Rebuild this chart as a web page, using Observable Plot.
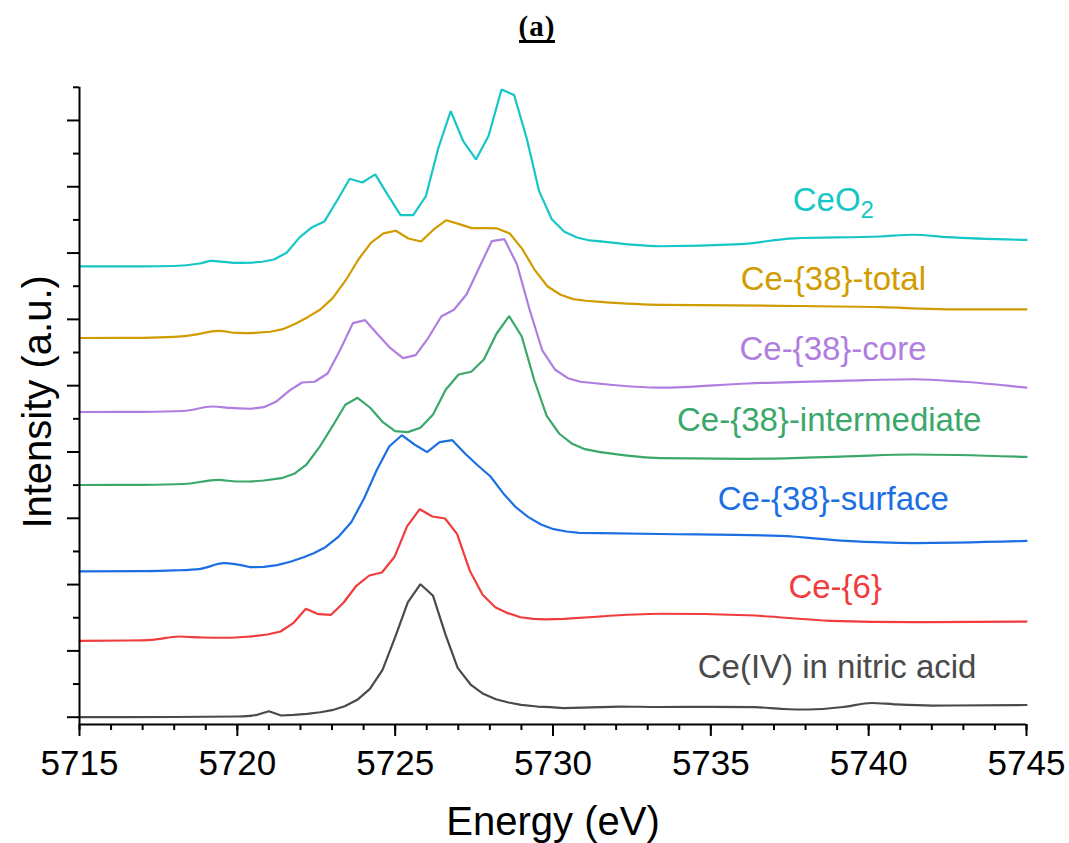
<!DOCTYPE html>
<html><head><meta charset="utf-8">
<script src="https://cdn.jsdelivr.net/npm/d3@7"></script>
<script src="https://cdn.jsdelivr.net/npm/@observablehq/plot@0.6"></script>
<style>
body{margin:0;background:#fff;}
#title{height:50px;width:1069px;text-align:center;font-family:"Liberation Serif","DejaVu Serif",serif;font-weight:bold;font-size:29px;color:#000;}
#title span{display:inline-block;margin-top:13px;margin-left:5px;line-height:27px;border-bottom:3px solid #000;letter-spacing:1px;}
</style></head><body>
<div id="title"><span>(a)</span></div>
<div id="chart"></div>
<script>
// ---- data (Energy in eV, intensity in stacked arbitrary units) ----
const seriesNames = ["CeO₂","Ce-{38}-total","Ce-{38}-core","Ce-{38}-intermediate","Ce-{38}-surface","Ce-{6}","Ce(IV) in nitric acid"];
const seriesColors = ["#17c6c6","#d09c00","#b07de0","#3aa86a","#1c6fe3","#f03c3c","#4a4a4a"];

const ceo2E = [5715,5716,5717,5718,5718.8,5719.2,5719.6,5720.0,5720.42,5720.79,5721.16,5721.56,5721.98,5722.37,5722.76,5723.16,5723.56,5723.96,5724.37,5724.77,5725.17,5725.57,5725.97,5726.37,5726.76,5727.16,5727.56,5727.96,5728.37,5728.77,5729.17,5729.56,5729.96,5730.36,5730.76,5731.16,5731.5,5733.4,5735.94,5737.62,5740.37,5741.42,5742.49,5745];
const ceo2I = [6.798,6.798,6.798,6.805,6.843,6.881,6.866,6.851,6.854,6.869,6.903,7.005,7.240,7.391,7.477,7.793,8.121,8.065,8.186,7.873,7.572,7.572,7.854,8.588,9.140,8.683,8.412,8.769,9.468,9.382,8.724,7.934,7.511,7.321,7.235,7.190,7.175,7.103,7.134,7.223,7.250,7.276,7.240,7.198];

const totalE = [5715,5717,5718,5718.6,5719.4,5720.0,5720.42,5721.05,5721.44,5721.84,5722.23,5722.63,5723.02,5723.43,5723.83,5724.23,5724.63,5725.02,5725.42,5725.82,5726.22,5726.62,5727.03,5727.43,5727.83,5728.23,5728.63,5729.03,5729.43,5729.83,5730.24,5730.64,5731.04,5731.5,5733.4,5737.2,5740.37,5742.49,5745];
const totalI = [5.719,5.722,5.735,5.765,5.825,5.795,5.792,5.813,5.852,5.934,6.033,6.149,6.320,6.587,6.899,7.155,7.296,7.336,7.220,7.175,7.356,7.496,7.436,7.376,7.376,7.371,7.296,7.059,6.738,6.496,6.371,6.305,6.281,6.265,6.220,6.205,6.184,6.152,6.152];

const coreE = [5715,5717,5718.3,5719.2,5719.8,5720.42,5720.84,5721.24,5721.66,5722.05,5722.45,5722.86,5723.26,5723.66,5724.05,5724.45,5724.85,5725.25,5725.65,5726.05,5726.46,5726.86,5727.26,5727.66,5728.06,5728.46,5728.86,5729.26,5729.66,5730.07,5730.47,5730.87,5731.5,5733.4,5736.15,5739.3,5741.42,5743.0,5745];
const coreI = [4.603,4.606,4.618,4.686,4.664,4.652,4.676,4.762,4.928,5.048,5.059,5.184,5.541,5.943,5.988,5.772,5.566,5.415,5.460,5.722,6.044,6.145,6.376,6.778,7.179,7.210,6.828,6.145,5.531,5.240,5.113,5.059,5.029,4.970,5.033,5.075,5.097,5.059,4.970];

const interE = [5715,5717,5718.3,5719.4,5720.0,5720.42,5720.84,5721.40,5721.80,5722.19,5722.60,5723.01,5723.42,5723.81,5724.21,5724.61,5725.00,5725.40,5725.80,5726.20,5726.60,5727.01,5727.41,5727.81,5728.21,5728.61,5729.01,5729.41,5729.80,5730.20,5730.61,5731.01,5731.5,5733.4,5736.15,5739.3,5741.42,5745];
const interI = [3.502,3.505,3.517,3.578,3.555,3.555,3.570,3.605,3.671,3.811,4.072,4.385,4.712,4.817,4.667,4.449,4.314,4.299,4.365,4.566,4.938,5.169,5.210,5.395,5.783,6.048,5.742,5.078,4.546,4.275,4.124,4.042,3.997,3.908,3.897,3.935,3.962,3.925];

const surfE = [5715,5717,5718,5718.83,5719.57,5720.42,5720.84,5721.26,5721.68,5722.10,5722.42,5722.79,5723.19,5723.61,5724.01,5724.41,5724.81,5725.21,5725.61,5726.01,5726.41,5726.81,5727.22,5727.62,5728.02,5728.42,5728.82,5729.22,5729.62,5730.02,5730.43,5730.83,5731.5,5733.4,5737.2,5739.3,5741.42,5745];
const surfI = [2.198,2.202,2.213,2.238,2.323,2.262,2.268,2.293,2.344,2.413,2.474,2.564,2.715,2.941,3.294,3.721,4.083,4.253,4.113,3.997,4.148,4.178,3.973,3.796,3.630,3.379,3.167,3.017,2.906,2.836,2.801,2.781,2.775,2.763,2.736,2.658,2.626,2.658];

const ce6E = [5715,5716.5,5717.3,5718.15,5718.9,5719.6,5720.42,5720.95,5721.37,5721.77,5722.17,5722.57,5722.97,5723.37,5723.77,5724.18,5724.58,5724.98,5725.38,5725.78,5726.18,5726.58,5726.96,5727.36,5727.77,5728.17,5728.57,5728.97,5729.37,5729.77,5730.34,5731.5,5733.4,5736.15,5738.8,5741.42,5745];
const ce6I = [1.152,1.157,1.167,1.217,1.202,1.198,1.217,1.247,1.293,1.418,1.635,1.554,1.544,1.730,1.982,2.137,2.183,2.419,2.881,3.137,3.027,2.997,2.766,2.213,1.846,1.659,1.569,1.508,1.484,1.474,1.484,1.519,1.560,1.538,1.454,1.433,1.443];

const nitricE = [5715,5718,5720.0,5720.42,5720.63,5721.00,5721.39,5721.79,5722.21,5722.63,5723.00,5723.40,5723.80,5724.20,5724.60,5725.00,5725.40,5725.80,5726.20,5726.60,5726.98,5727.39,5727.79,5728.19,5728.59,5728.99,5729.50,5729.92,5730.34,5731.5,5732.1,5733.4,5735,5736.4,5737.3,5738.1,5739.2,5740.1,5740.8,5742,5745];
const nitricI = [0,0.003,0.011,0.021,0.036,0.090,0.026,0.036,0.051,0.075,0.106,0.166,0.262,0.428,0.715,1.207,1.730,2.006,1.831,1.237,0.745,0.493,0.353,0.271,0.222,0.187,0.161,0.151,0.136,0.151,0.161,0.154,0.157,0.151,0.124,0.116,0.154,0.214,0.195,0.176,0.184];

const labelX = [5738.88,5738.88,5738.87,5738.75,5738.88,5738.94,5739.0];
const labelY = [7.793,6.596,5.546,4.478,3.284,1.964,0.750];

const majorXTicks = [5715,5720,5725,5730,5735,5740,5745];
const minorXTicks = d3.range(5715,5746,1);
const majorYTicks = d3.range(0,10,1);
const minorYTicks = d3.range(0.5,10,1);

// edge region (sampled, drawn point-to-point) vs smooth pre-edge / post-edge
const edgeStart = 5720.42, edgeEnd = 5731.5;

// ---- build tables ----
const allE = [ceo2E,totalE,coreE,interE,surfE,ce6E,nitricE];
const allI = [ceo2I,totalI,coreI,interI,surfI,ce6I,nitricI];
const edgeRows = [], smoothRows = [];
seriesNames.forEach((name,k) => allE[k].forEach((e,i) => {
  const r = {series:name, energy:e, intensity:allI[k][i]};
  if (e >= edgeStart && e <= edgeEnd) edgeRows.push(r);
  if (e <= edgeStart) smoothRows.push({...r, part:name+"|pre"});
  if (e >= edgeEnd) smoothRows.push({...r, part:name+"|post"});
}));
const labels = seriesNames.map((name,k) => ({series:name, x:labelX[k], y:labelY[k]}));

const chart = Plot.plot({
  width:1069, height:793,
  marginTop:36.8, marginBottom:119, marginLeft:79, marginRight:43,
  style:{fontFamily:"'Liberation Sans', Arial, sans-serif", background:"white", color:"black"},
  x:{domain:[5715,5745]},
  y:{domain:[-0.11,9.5]},
  color:{domain:seriesNames, range:seriesColors},
  marks:[
    Plot.axisX(minorXTicks,{tickSize:6, strokeWidth:2, tickFormat:()=>"", label:null}),
    Plot.axisX(majorXTicks,{tickSize:12, strokeWidth:2, tickPadding:14, fontSize:35, tickFormat:d=>String(d), label:null}),
    Plot.axisY(minorYTicks,{tickSize:6, strokeWidth:2, tickFormat:()=>"", label:null}),
    Plot.axisY(majorYTicks,{tickSize:12, strokeWidth:2, tickFormat:()=>"", label:null}),
    Plot.line(edgeRows,{x:"energy", y:"intensity", z:"series", stroke:"series", strokeWidth:2.2, strokeLinejoin:"miter"}),
    Plot.line(smoothRows,{x:"energy", y:"intensity", z:"part", stroke:"series", strokeWidth:2.2, curve:"monotone-x"}),
    Plot.text(labels,{x:"x", y:"y", text:"series", fill:"series", fontSize:33}),
    Plot.ruleX([5715],{strokeWidth:2}),
    Plot.ruleY([-0.11],{strokeWidth:2}),
    Plot.text(["Energy (eV)"],{text:d=>d, frameAnchor:"bottom", lineAnchor:"middle", textAnchor:"middle", dy:98, fontSize:40}),
    Plot.text(["Intensity (a.u.)"],{text:d=>d, frameAnchor:"left", lineAnchor:"middle", textAnchor:"middle", rotate:-90, dx:-41, dy:-4, fontSize:40})
  ]
});
// render the subscript of CeO2 as a real subscript
chart.querySelectorAll("text").forEach(t => {
  if (t.textContent === "CeO₂") {
    t.textContent = "CeO";
    const sub = document.createElementNS("http://www.w3.org/2000/svg","tspan");
    sub.setAttribute("dy","0.3em");
    sub.setAttribute("font-size","24");
    sub.textContent = "2";
    t.appendChild(sub);
  }
});
document.getElementById("chart").appendChild(chart);
</script></body></html>
